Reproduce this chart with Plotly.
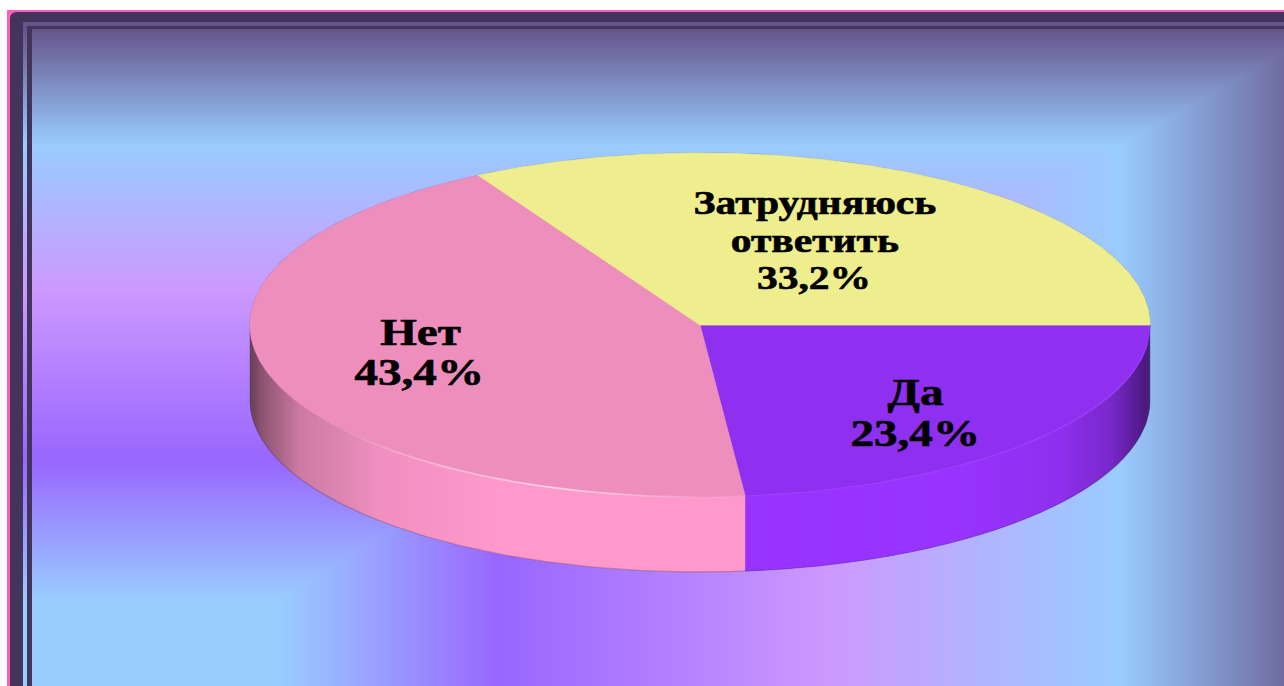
import numpy as np
import plotly.graph_objects as go

categories = ["Да", "Нет", "Затрудняюсь ответить"]
values = [23.4, 43.4, 33.2]
top_colors = ["#8F2FEF", "#EE8EBC", "#EEEE8E"]
rim_colors = [(153, 51, 255), (255, 153, 204), (238, 238, 142)]

W, H = 1284, 686
CX, CY, RX, RY, DEPTH = 700, 325, 450, 172, 75


def px(a):
    return CX + RX * np.cos(np.radians(a))


def py(a, drop=0):
    return CY + drop + RY * np.sin(np.radians(a))


fig = go.Figure()

# background: rectangular gradient anchored at the lower left corner
xs = np.arange(23, W) + 0.5
ys = np.arange(22, H) + 0.5
tx = np.interp(xs, [280, 500, 830, 1120, 1284], [0.2, 0.4, 0.6, 0.8, 0.96])
ty = np.interp(ys, [29, 145, 290, 460, 600], [1.0, 0.8, 0.6, 0.4, 0.2])
grid = np.maximum(tx[None, :], ty[:, None]).astype("float32")
fig.add_trace(go.Heatmap(
    x=xs, y=ys, z=grid, zmin=0, zmax=1, showscale=False, hoverinfo="skip",
    colorscale=[[0, "#99CCFF"], [0.2, "#99CCFF"], [0.4, "#9966FF"],
                [0.6, "#CC99FF"], [0.8, "#99CCFF"], [1, "#65548A"]],
))

# slice angles, clockwise from east
shares = np.array(values) / sum(values) * 360
ends = np.cumsum(shares)
starts = ends - shares


def rim_shade(x):
    return np.interp(x, [250, 262, 300, 380, 500, 960, 1060, 1110, 1140, 1150],
                     [0.40, 0.55, 0.80, 0.94, 1, 1, 0.93, 0.80, 0.55, 0.45])


# side wall, front half only; each strip runs under the next one, so no seams show
for s, e, col in zip(starts, ends, rim_colors):
    lo, hi = max(s, 0), min(e, 180)
    if hi <= lo:
        continue
    edges = np.linspace(lo, hi, int(np.ceil(hi - lo)) * 2 + 1)
    for i in range(len(edges) - 1):
        a0, mid = edges[i], edges[i + 1]
        a1 = edges[min(i + 2, len(edges) - 1)]
        f = rim_shade((px(a0) + px(mid)) / 2)
        c = "rgb(%d,%d,%d)" % tuple(int(round(v * f)) for v in col)
        arc = np.array([a0, mid, a1])
        fig.add_trace(go.Scatter(
            x=np.r_[px(arc), px(arc[::-1])],
            y=np.r_[py(arc), py(arc[::-1], DEPTH)],
            mode="lines", fill="toself", fillcolor=c,
            line=dict(color=c, width=0), hoverinfo="skip", showlegend=False,
        ))

# soft outline round the silhouette
back = np.linspace(180, 360, 241)
front = np.linspace(0, 180, 241)
fig.add_trace(go.Scatter(
    x=np.r_[px(back), px(front)[0], px(front), px(back)[0]],
    y=np.r_[py(back), py(front, DEPTH)[0], py(front, DEPTH), py(back)[0]],
    mode="lines", line=dict(color="rgba(70,60,110,0.35)", width=1.2),
    hoverinfo="skip", showlegend=False,
))

# top face
for s, e, col, name in zip(starts, ends, top_colors, categories):
    a = np.linspace(s, e, int(np.ceil(e - s)) * 2 + 1)
    fig.add_trace(go.Scatter(
        x=np.r_[CX, px(a), CX], y=np.r_[CY, py(a), CY],
        mode="lines", fill="toself", fillcolor=col,
        line=dict(color=col, width=0.8), name=name,
        hoverinfo="skip", showlegend=False,
    ))

# highlight on the edge of the top face
edge = np.linspace(starts[1], 180, 61)
for a0, a1 in zip(edge[:-1], edge[1:]):
    alpha = np.interp((px(a0) + px(a1)) / 2, [330, 430, 560, 700], [0, 0.45, 0.75, 0.15])
    fig.add_trace(go.Scatter(
        x=[px(a0), px(a1)], y=[py(a0), py(a1)], mode="lines",
        line=dict(color="rgba(255,235,245,%.2f)" % alpha, width=1.6),
        hoverinfo="skip", showlegend=False,
    ))
edge = np.linspace(6, starts[1], 41)
fig.add_trace(go.Scatter(
    x=px(edge), y=py(edge), mode="lines",
    line=dict(color="rgba(165,70,255,0.6)", width=1.5),
    hoverinfo="skip", showlegend=False,
))

# labels
FONT = "Liberation Serif"
pct = [f"{v:.1f}%".replace(".", ",") for v in values]
label_lines = [
    (815, 202, "Затрудняюсь", 33.5),
    (815, 240, "ответить", 33.5),
    (814, 277, pct[2], 33.5),
    (420, 332, categories[1], 38),
    (419, 372, pct[1], 38),
    (915, 392, categories[0], 38),
    (915, 433, pct[0], 38),
]
annotations = [
    dict(x=x, y=y, text=f"<b>{t}</b>", showarrow=False, xanchor="center", yanchor="middle",
         font=dict(family=FONT, size=sz, color="#000000"))
    for x, y, t, sz in label_lines
]

# frame
DARK = "#42345A"
frame = [
    dict(type="rect", x0=7, x1=W, y0=10, y1=H, fillcolor="#FF5CC4", line_width=0, layer="below"),
    dict(type="path", path=f"M 10 {H} L 10 19 Q 10 12 17 12 L {W} 12 L {W} 22 L 23 22 L 23 {H} Z",
         fillcolor=DARK, line_width=0, layer="above"),
    dict(type="rect", x0=27, x1=32, y0=26, y1=H, fillcolor=DARK, line_width=0, layer="above"),
    dict(type="rect", x0=27, x1=W, y0=26, y1=29, fillcolor=DARK, line_width=0, layer="above"),
]

fig.update_layout(
    width=W, height=H, margin=dict(l=0, r=0, t=0, b=0),
    paper_bgcolor="#FFFFFF", plot_bgcolor="#FFFFFF",
    xaxis=dict(range=[0, W], visible=False, fixedrange=True),
    yaxis=dict(range=[H, 0], visible=False, fixedrange=True),
    annotations=annotations, shapes=frame, showlegend=False,
)

# page without body margin; the reference's labels are stretched and heavier
post = """
document.documentElement.style.overflow = 'hidden';
document.body.style.margin = '0';
document.querySelectorAll('.annotation-text').forEach(function (t) {
  var b = t.getBBox(), c = b.x + b.width / 2;
  t.setAttribute('transform', 'translate(' + c + ',0) scale(1.24,1) translate(' + (-c) + ',0)');
  t.style.stroke = '#000';
  t.style.strokeWidth = '0.6px';
});
"""
fig.write_html("out.html", config={"displayModeBar": False}, post_script=post)
